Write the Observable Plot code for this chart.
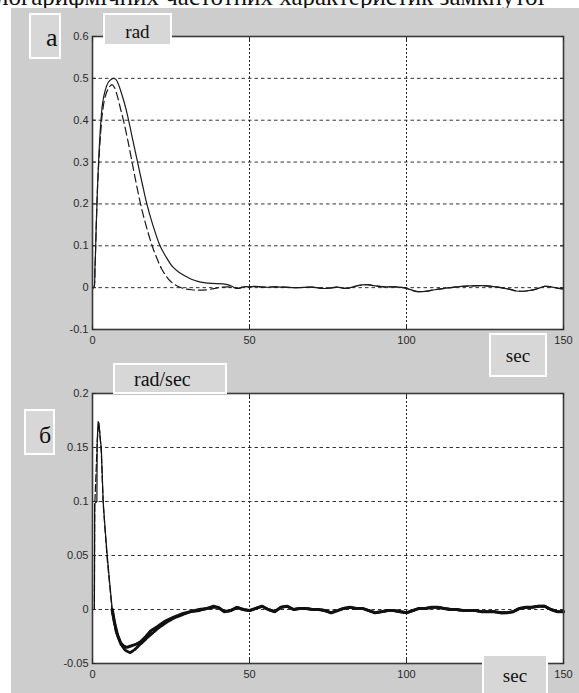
<!DOCTYPE html>
<html><head><meta charset="utf-8">
<script src="https://cdn.jsdelivr.net/npm/d3@7"></script>
<script src="https://cdn.jsdelivr.net/npm/@observablehq/plot@0.6"></script>
<style>
body{margin:0;background:#fff;}
#wrap{position:relative;width:579px;height:693px;overflow:hidden;background:#fff;}
#toptext{position:absolute;left:-4px;top:-16px;font:25px/25px "Liberation Serif",serif;white-space:nowrap;color:#111;}
#panel{position:absolute;left:11px;top:8px;right:0;bottom:0;background:#cdcdcd;}
.plot{position:absolute;left:0;}
.box{position:absolute;box-sizing:border-box;background:#d7d7d7;border:2px solid #fff;font-family:"Liberation Serif",serif;color:#111;line-height:1;white-space:nowrap;z-index:5;}
</style></head>
<body>
<div id="wrap">
  <div id="toptext">логарифмічних частотних характеристик замкнутої</div>
  <div id="panel"></div>
  <div id="p1" class="plot" style="top:0px"></div>
  <div id="p2" class="plot" style="top:360px"></div>
  <div class="box" style="left:29px;top:13px;width:32px;height:46px;font-size:26px;padding:10px 0 0 15px;">a</div>
  <div class="box" style="left:103px;top:13px;width:69px;height:33px;font-size:19px;padding-top:7px;text-align:center;">rad</div>
  <div class="box" style="left:489px;top:333px;width:58px;height:44px;font-size:19px;padding-top:11px;text-align:center;">sec</div>
  <div class="box" style="left:113px;top:363px;width:114px;height:31px;font-size:20px;padding:4px 0 0 19px;">rad/sec</div>
  <div class="box" style="left:24px;top:409px;width:31px;height:46px;font-size:24px;padding:12px 0 0 13px;">б</div>
  <div class="box" style="left:482px;top:654px;width:66px;height:45px;font-size:19px;padding-top:10px;text-align:center;">sec</div>
</div>
<script>
// ---- tick values ----
const xTicks = [0, 50, 100, 150];
const xGrid = [50, 100];
const aYTicks = [-0.1, 0, 0.1, 0.2, 0.3, 0.4, 0.5, 0.6];
const bYTicks = [-0.05, 0, 0.05, 0.1, 0.15, 0.2];

// ---- panel a (rad): solid and dashed transient, shared tail ----
const aSolidT = [0,0.4,0.8,1.2,1.6,2,2.6,3.2,4,5,6,6.8,7.5,8.3,9.2,10.2,11.2,12.2,13.2,14.2,15.8,17.3,19.2,21.5,23.3,25.5,27.5,29.5,31.5,33.5,35.5,38,41.5,43.5,45,46.5];
const aSolidV = [0,0,0.05,0.15,0.24,0.31,0.39,0.44,0.47,0.49,0.498,0.5,0.497,0.485,0.465,0.44,0.41,0.375,0.34,0.305,0.25,0.2,0.15,0.1,0.075,0.05,0.037,0.028,0.02,0.015,0.012,0.01,0.009,0.006,0.001,-0.002];
const aDashT = [0,0.4,0.8,1.2,1.6,2,2.6,3.2,4,5,6.2,7,8,9,10,11.3,12.6,13.9,15.3,17,19,20.5,22,23.5,25,27,29,31.5,34,36.5,39,41,43,45,46.5];
const aDashV = [0,0,0.05,0.15,0.24,0.3,0.37,0.42,0.455,0.475,0.485,0.478,0.455,0.425,0.395,0.35,0.3,0.25,0.2,0.15,0.1,0.07,0.045,0.027,0.014,0.004,-0.002,-0.005,-0.006,-0.005,-0.002,0.001,0.002,0,-0.002];
const aTailT = [48,50,52,55,58,61,65,70,74,78,81,84,87.5,90,93,96,99,101,103,106,109,112,116,120,124,127,130,133,135,138,141,144,146,148,150];
const aTailV = [0.002,0.002,0.003,0.001,0.002,0.001,0,0.001,-0.002,0.001,-0.002,0.004,0.007,0.004,0.002,0.002,0,-0.004,-0.009,-0.009,-0.005,-0.002,0.002,0.004,0.005,0.003,0,-0.004,-0.008,-0.008,-0.004,0.003,0.002,-0.001,-0.003];

// ---- panel б (rad/sec) ----
const bSolidT = [0,0.6,0.7,1.4,1.5,1.8,2.1,2.4,2.8,3.4,4,4.7,5.5,6.3,7,8,9,10,11,12,13,14,15.3,17,18.5,20.6,23,25.9,28.5,31.2,34,36.5,38.6];
const bSolidV = [0,0,0.098,0.1,0.156,0.174,0.172,0.16,0.15,0.1,0.075,0.05,0.024,0,-0.012,-0.024,-0.031,-0.034,-0.035,-0.034,-0.033,-0.032,-0.03,-0.025,-0.02,-0.016,-0.011,-0.007,-0.004,-0.002,0,0.001,0.003];
const bDashT = [0,0.6,0.7,1.5,1.9,2.3,2.8,3.4,4.7,6.2,7.5,9,10.5,12,13.5,15.3,17.5,20.6,23,25.9,28.5,31.2,34,36.5,38.6];
const bDashV = [0,0,0.095,0.155,0.172,0.165,0.145,0.098,0.046,0,-0.02,-0.032,-0.038,-0.04,-0.037,-0.032,-0.026,-0.018,-0.013,-0.008,-0.005,-0.002,-0.001,0.001,0.002];
const bTailT = [40,42,44,46,48,50,52,54,56,58,60,62,64,66,68,70,72,74,76,78,80,82,84,86,88,90,92,94,96,98,100,102,104,106,108,110,112,114,116,118,120,122,124,126,128,130,132,134,136,138,140,142,144,146,148,150];
const bTailV = [0.002,-0.002,-0.001,0.002,0,-0.001,0.001,0.003,0,-0.002,0.002,0.003,0,0.001,0.001,0,0,-0.001,-0.003,-0.001,0.001,0.002,0.001,0.001,-0.001,-0.003,-0.002,-0.001,-0.001,-0.002,-0.003,-0.001,0.001,0.001,0.002,0.002,0.001,0,0,-0.001,-0.001,-0.001,-0.002,-0.002,-0.002,-0.003,-0.003,-0.002,0.001,0.002,0.002,0.003,0.003,0,-0.002,-0.002];

const zip = (T, V) => T.map((t, i) => ({t, v: V[i]}));
const aSolid = zip(aSolidT, aSolidV).concat(zip(aTailT, aTailV));
const aDash = zip(aDashT, aDashV).concat(zip(aTailT, aTailV));
const bSolid = zip(bSolidT, bSolidV).concat(zip(bTailT, bTailV));
const bDash = zip(bDashT, bDashV).concat(zip(bTailT, bTailV));

const fmt = d => String(d);
function makePlot({height, marginTop, marginBottom, yDomain, yTicks, marks}) {
  const inner = yTicks.filter(v => v !== yDomain[0] && v !== yDomain[1]);
  return Plot.plot({
    width: 579, height, marginLeft: 92, marginRight: 16, marginTop, marginBottom,
    style: {background: "transparent", fontFamily: "'Liberation Sans', Arial, sans-serif", fontSize: "11px", color: "#2a2a2a", overflow: "visible"},
    x: {domain: [0, 150], label: null},
    y: {domain: yDomain, label: null},
    marks: [
      Plot.frame({fill: "white", stroke: "none"}),
      Plot.gridY(inner, {stroke: "#333", strokeOpacity: 1, strokeDasharray: "3.5,3"}),
      Plot.gridX(xGrid, {stroke: "#222", strokeOpacity: 1, strokeDasharray: "2,2"}),
      ...marks,
      Plot.frame({stroke: "#3a3a3a", strokeWidth: 1.6}),
      Plot.axisY(yTicks, {anchor: "left", tickSize: 0, tickPadding: 4, tickFormat: fmt, label: null}),
      Plot.axisY(yTicks, {anchor: "left", tickSize: -4, tickFormat: () => "", label: null}),
      Plot.axisY(yTicks, {anchor: "right", tickSize: -4, tickFormat: () => "", label: null}),
      Plot.axisX(xTicks, {anchor: "bottom", tickSize: 0, tickPadding: 7, tickFormat: fmt, label: null}),
      Plot.axisX(xTicks, {anchor: "bottom", tickSize: -4, tickFormat: () => "", label: null}),
      Plot.axisX(xTicks, {anchor: "top", tickSize: -4, tickFormat: () => "", label: null})
    ]
  });
}

const p1 = makePlot({
  height: 360, marginTop: 36, marginBottom: 31, yDomain: [-0.1, 0.6], yTicks: aYTicks,
  marks: [
    Plot.line(aDash, {x: "t", y: "v", stroke: "#1a1a1a", strokeWidth: 1.2, strokeDasharray: "8,4", curve: "catmull-rom"}),
    Plot.line(aSolid, {x: "t", y: "v", stroke: "#1a1a1a", strokeWidth: 1.2, curve: "catmull-rom"})
  ]
});
document.getElementById("p1").appendChild(p1);

const p2 = makePlot({
  height: 333, marginTop: 33, marginBottom: 30, yDomain: [-0.05, 0.2], yTicks: bYTicks,
  marks: [
    Plot.line(bDash, {x: "t", y: "v", stroke: "#111", strokeWidth: 1.2, strokeDasharray: "7,3"}),
    Plot.line(bSolid, {x: "t", y: "v", stroke: "#111", strokeWidth: 1.2}),
    Plot.line(bDash.filter(d => d.t >= 6), {x: "t", y: "v", stroke: "#111", strokeWidth: 2.8, strokeDasharray: "7,2"}),
    Plot.line(bSolid.filter(d => d.t >= 6), {x: "t", y: "v", stroke: "#111", strokeWidth: 3})
  ]
});
document.getElementById("p2").appendChild(p2);
</script>
</body></html>
